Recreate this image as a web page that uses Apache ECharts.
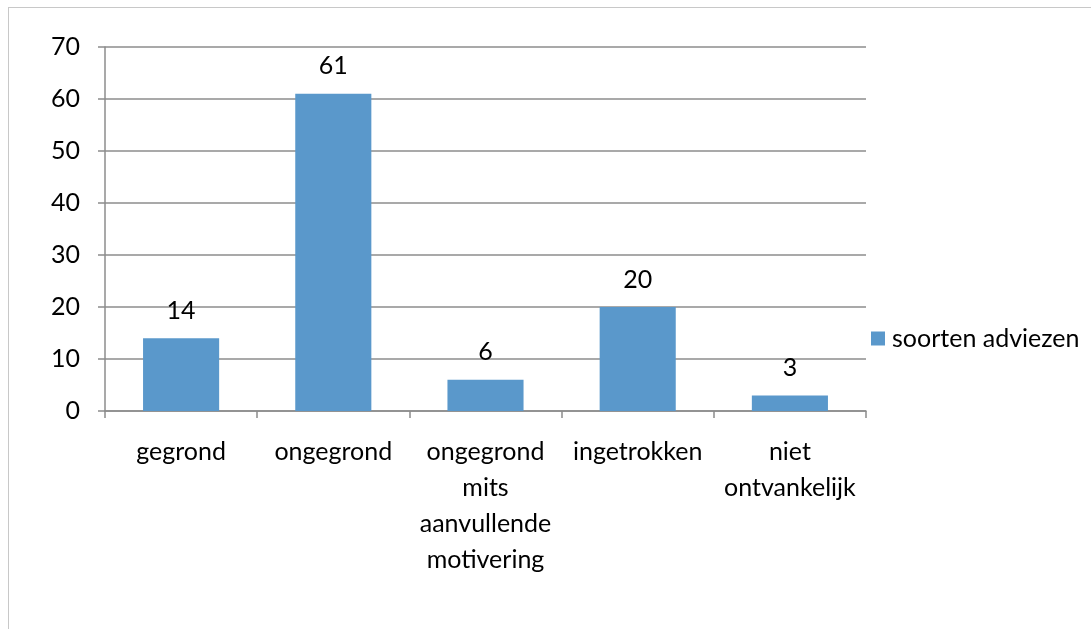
<!DOCTYPE html>
<html><head><meta charset="utf-8">
<script src="https://cdn.jsdelivr.net/npm/echarts@6/dist/echarts.min.js"></script>
<style>
html,body{margin:0;padding:0;background:#fff;overflow:hidden;}
#frame{position:absolute;left:8px;top:7px;width:1200px;height:700px;border:1.5px solid #c8c8c8;box-sizing:border-box;}
#chart{position:absolute;left:0;top:0;width:1091px;height:629px;}
</style></head>
<body>
<div id="frame"></div>
<div id="chart"></div>
<script>
const categories = ['gegrond', 'ongegrond', 'ongegrond\nmits\naanvullende\nmotivering', 'ingetrokken', 'niet\nontvankelijk'];
const values = [14, 61, 6, 20, 3];
const seriesName = 'soorten adviezen';
const yTicks = [0, 10, 20, 30, 40, 50, 60, 70];

const FONT = 'Lato, "Open Sans", sans-serif';
const FS = 25;
const chart = echarts.init(document.getElementById('chart'), null, {renderer: 'canvas'});
chart.setOption({
  animation: false,
  backgroundColor: 'transparent',
  textStyle: {fontFamily: FONT},
  grid: {left: 105, right: 225, top: 47, bottom: 218, containLabel: false},
  legend: {
    data: [seriesName], left: 866, top: 321, orient: 'vertical',
    itemWidth: 14, itemHeight: 14, itemGap: 6,
    icon: 'rect',
    textStyle: {fontFamily: FONT, fontSize: FS, color: '#000', padding: [0,0,0,2]}
  },
  xAxis: {
    type: 'category', data: categories,
    axisLine: {lineStyle: {color: '#8c8c8c', width: 1.5}},
    axisTick: {show: true, length: 7, lineStyle: {color: '#8c8c8c', width: 1.5}},
    axisLabel: {color: '#000', fontSize: FS, fontFamily: FONT, margin: 23, lineHeight: 36, interval: 0}
  },
  yAxis: {
    type: 'value', min: yTicks[0], max: yTicks[yTicks.length-1], interval: 10,
    axisLine: {show: true, lineStyle: {color: '#8c8c8c', width: 1.5}},
    axisTick: {show: true, length: 7, lineStyle: {color: '#8c8c8c', width: 1.5}},
    splitLine: {lineStyle: {color: '#8c8c8c', width: 1.5}},
    axisLabel: {color: '#000', fontSize: FS, fontFamily: FONT, margin: 25}
  },
  series: [{
    name: seriesName, type: 'bar', data: values, barWidth: '50%',
    itemStyle: {color: '#5A98CB'},
    label: {show: true, position: 'top', distance: 15, color: '#000', fontSize: FS, fontFamily: FONT}
  }]
});
</script>
</body></html>
